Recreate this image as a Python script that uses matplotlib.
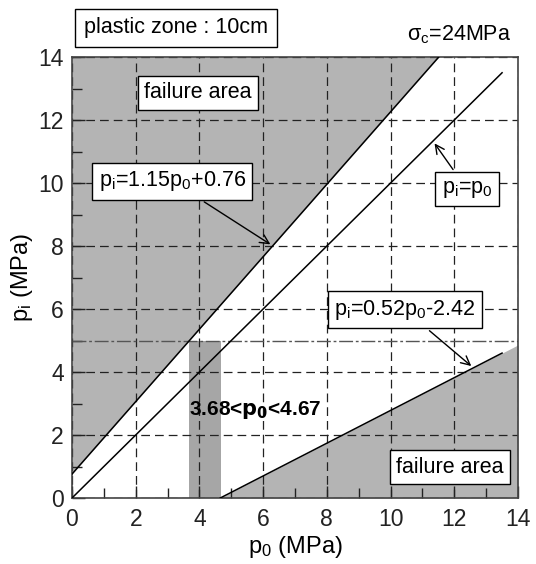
import numpy as np
import matplotlib.pyplot as plt

plt.rcParams['font.family'] = ['Liberation Sans', 'DejaVu Sans']
plt.rcParams['mathtext.default'] = 'regular'

# limit lines  p_i = a * p_0 + b
upper_a, upper_b = 1.15, 0.76
equal_a, equal_b = 1.0, 0.0
lower_a, lower_b = 0.52, -2.42
p0_max = 14.0
line_end = 13.5          # where p_i=p_0 and lower line stop
pi_limit = 5.0           # horizontal dash-dot limit
band = [3.68, 4.67]      # admissible p_0 range

ticks = [0, 2, 4, 6, 8, 10, 12, 14]

fig = plt.figure(figsize=(5.36, 5.64), dpi=100)
ax = fig.add_axes([72/536, 1-498/564, 446/536, 441/564])

fill_c = '#b4b4b4'

# failure area above upper line
x_up = np.linspace(0, (p0_max - upper_b)/upper_a, 50)
ax.fill_between(x_up, upper_a*x_up + upper_b, p0_max, color=fill_c, lw=0)
ax.plot(x_up, upper_a*x_up + upper_b, color='k', lw=1.1, zorder=3)

# p_i = p_0
x_eq = np.linspace(0, line_end, 50)
ax.plot(x_eq, equal_a*x_eq + equal_b, color='k', lw=1.1, zorder=3)

# failure area below lower line
x0 = -lower_b/lower_a
x_lo = np.linspace(x0, p0_max, 50)
ax.fill_between(x_lo, 0, lower_a*x_lo + lower_b, color=fill_c, lw=0)
x_lo_line = np.linspace(x0, line_end, 50)
ax.plot(x_lo_line, lower_a*x_lo_line + lower_b, color='k', lw=1.1, zorder=3)

# admissible band
ax.fill_between(band, 0, pi_limit, color='#a6a6a6', lw=0)

# p_i = 5 limit
ax.plot([0, p0_max], [pi_limit, pi_limit], color='#555555', lw=1.0,
        linestyle=(0, (10, 2, 2, 2)), zorder=2)

ax.set_xlim(0, 14)
ax.set_ylim(0, 14)
ax.set_xticks(ticks)
ax.set_yticks(ticks)
ax.set_xticks(np.arange(1, 14, 2), minor=True)
ax.set_yticks(np.arange(1, 14, 2), minor=True)
ax.tick_params(which='both', direction='in', labelsize=16.5, colors='#222222')
ax.tick_params(which='major', length=9, width=1)
ax.tick_params(which='minor', length=7, width=1)
ax.tick_params(axis='x', pad=7)
ax.tick_params(axis='y', pad=6)
for s in ax.spines.values():
    s.set_color('#444444')
    s.set_linewidth(1.2)

ax.grid(True, which='major', color='#222222', lw=0.9, linestyle=(0, (7, 4)))

ax.set_xlabel('$p_0$ (MPa)', fontsize=17, labelpad=2)
ax.set_ylabel('$p_i$ (MPa)', fontsize=17, labelpad=2)

box = dict(boxstyle='square,pad=0.3', fc='white', ec='k', lw=1)
fs = 15.5

ax.text(3.95, 12.86, 'failure area', fontsize=fs, ha='center', va='center', bbox=box, zorder=5)
ax.text(11.87, 0.98, 'failure area', fontsize=fs, ha='center', va='center', bbox=box, zorder=5)

arw = dict(arrowstyle='->', color='k', lw=1, mutation_scale=16)
ax.annotate('$p_i$=1.15$p_0$+0.76', xy=(6.3, upper_a*6.3 + upper_b), xytext=(3.15, 10.05),
            fontsize=fs, ha='center', va='center', bbox=box, arrowprops=arw, zorder=5)
ax.annotate('$p_i$=$p_0$', xy=(11.33, 11.33), xytext=(12.4, 9.8),
            fontsize=fs, ha='center', va='center', bbox=box, arrowprops=arw, zorder=5)
ax.annotate('$p_i$=0.52$p_0$-2.42', xy=(12.6, lower_a*12.6 + lower_b), xytext=(10.45, 5.97),
            fontsize=fs, ha='center', va='center', bbox=box, arrowprops=arw, zorder=5)

ax.text(band[0], 2.8, '3.68<$\\mathbf{p_0}$<4.67', fontsize=15, fontweight='bold',
        ha='left', va='center', zorder=5)

fig.text(176/536, 1-28/564, 'plastic zone : 10cm', fontsize=fs, ha='center', va='center',
         bbox=dict(boxstyle='square,pad=0.4', fc='white', ec='k', lw=1))
fig.text(511/536, 1-35/564, '$\\sigma_c$=24MPa', fontsize=fs, ha='right', va='center')

fig.savefig('out.png', dpi=100)
